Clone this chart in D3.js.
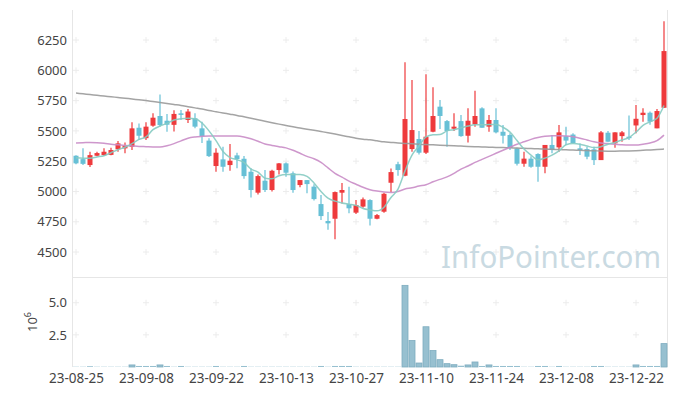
<!DOCTYPE html>
<html>
<head>
<meta charset="utf-8">
<script src="https://cdn.jsdelivr.net/npm/d3@7"></script>
<style>
  body { margin: 0; background: #fff; }
  svg text { font-family: "Noto Sans", "Open Sans", sans-serif; }
</style>
</head>
<body>
<div id="chart"></div>
<script>
// trading days, 23-08-25 .. 24-01-02
const dates = [
  "23-08-25","23-08-28","23-08-29","23-08-30","23-08-31","23-09-01","23-09-04","23-09-05","23-09-06","23-09-07",
  "23-09-08","23-09-11","23-09-12","23-09-13","23-09-14","23-09-15","23-09-18","23-09-19","23-09-20","23-09-21",
  "23-09-22","23-09-25","23-09-26","23-09-27","23-10-04","23-10-05","23-10-06","23-10-10","23-10-11","23-10-12",
  "23-10-13","23-10-16","23-10-17","23-10-18","23-10-19","23-10-20","23-10-23","23-10-24","23-10-25","23-10-26",
  "23-10-27","23-10-30","23-10-31","23-11-01","23-11-02","23-11-03","23-11-06","23-11-07","23-11-08","23-11-09",
  "23-11-10","23-11-13","23-11-14","23-11-15","23-11-16","23-11-17","23-11-20","23-11-21","23-11-22","23-11-23",
  "23-11-24","23-11-27","23-11-28","23-11-29","23-11-30","23-12-01","23-12-04","23-12-05","23-12-06","23-12-07",
  "23-12-08","23-12-11","23-12-12","23-12-13","23-12-14","23-12-15","23-12-18","23-12-19","23-12-20","23-12-21",
  "23-12-22","23-12-26","23-12-27","23-12-28","24-01-02"
]
const tickLabels = ["23-08-25","23-09-08","23-09-22","23-10-13","23-10-27","23-11-10","23-11-24","23-12-08","23-12-22"]

const open = [5295,5267,5218,5295,5300,5302,5348,5356,5369,5526, 5440,5543,5623,5584,5550,5645,5590,5604,5521,5420,
  5210,5265,5218,5298,5270,5163,4990,5089,5012,5177, 5232,5150,5053,5094,5040,4896,4756,4775,4990,4896,
  4825,4875,4929,4775,4833,5072,5225,5130,5350,5433, 5320,5493,5700,5581,5518,5581,5460,5554,5686,5535,
  5590,5493,5466,5356,5229,5271,5309,5204,5384,5364, 5457,5470,5356,5350,5348,5259,5485,5397,5457,5452,
  5545,5631,5650,5521,5691]
const high = [5300,5356,5328,5328,5356,5360,5416,5405,5571,5562, 5571,5645,5800,5639,5670,5672,5680,5645,5576,5440,
  5356,5369,5392,5320,5292,5191,5140,5177,5180,5235, 5240,5165,5094,5094,5060,4970,4830,5000,5070,5040,
  4930,4950,4935,4815,4990,5190,5245,6066,5920,5499, 5967,5860,5755,5590,5645,5631,5686,5832,5695,5631,
  5686,5548,5480,5361,5328,5290,5315,5384,5466,5548, 5535,5480,5397,5369,5369,5500,5500,5488,5499,5627,
  5713,5686,5660,5680,6405]
const low = [5225,5218,5202,5290,5295,5298,5328,5315,5342,5425, 5425,5535,5535,5493,5495,5590,5565,5521,5400,5285,
  5163,5163,5171,5191,5106,4951,4975,4995,5000,5140, 5122,4990,5034,4985,4925,4765,4685,4605,4900,4820,
  4815,4865,4720,4770,4825,4995,5130,5125,5328,5306, 5309,5488,5515,5370,5499,5452,5405,5535,5526,5493,
  5480,5397,5342,5215,5204,5195,5080,5150,5315,5328, 5384,5395,5301,5265,5218,5259,5411,5361,5411,5425,
  5480,5576,5550,5521,5691]
const close = [5232,5228,5300,5317,5328,5342,5397,5378,5521,5460, 5535,5609,5548,5551,5640,5632,5660,5535,5457,5292,
  5320,5204,5254,5268,5127,5012,5127,5012,5171,5232, 5155,5012,5094,5061,4937,4797,4737,4995,5012,4861,
  4888,4935,4775,4805,4981,5160,5177,5598,5507,5320, 5452,5623,5623,5499,5535,5457,5584,5623,5526,5590,
  5488,5460,5361,5229,5271,5204,5204,5384,5342,5488, 5420,5400,5342,5287,5259,5488,5411,5488,5488,5444,
  5600,5650,5576,5664,6159]

// moving averages
const ma5 = [5279,5275,5274,5285,5295,5320,5345,5365,5395,5430, 5450,5510,5540,5562,5590,5600,5605,5600,5565,5500,
  5420,5330,5280,5262,5240,5185,5160,5110,5105,5130, 5140,5140,5140,5125,5070,5000,4945,4920,4905,4895,
  4885,4860,4848,4840,4870,4950,5020,5170,5300,5375, 5450,5468,5470,5500,5510,5525,5540,5550,5550,5552,
  5552,5530,5490,5420,5350,5300,5262,5275,5300,5335, 5385,5395,5390,5375,5362,5370,5390,5405,5425,5445,
  5490,5545,5575,5605,5710]
const ma20 = [5400,5402,5405,5403,5398,5390,5385,5380,5376,5372, 5370,5368,5368,5378,5395,5418,5440,5450,5455,5458,
  5458,5458,5457,5457,5450,5435,5415,5392,5380,5370, 5360,5340,5315,5290,5270,5240,5195,5150,5118,5085,
  5060,5035,5015,5003,4995,4992,5000,5020,5030,5045, 5055,5080,5100,5120,5150,5185,5210,5240,5265,5290,
  5315,5340,5365,5390,5410,5430,5445,5455,5460,5460, 5458,5452,5440,5425,5410,5400,5395,5390,5385,5383,
  5383,5390,5400,5420,5465]
const ma60 = [5812,5806,5800,5794,5788,5782,5776,5770,5763,5757, 5750,5742,5734,5726,5718,5710,5700,5690,5680,5668,
  5658,5648,5638,5628,5616,5604,5592,5580,5568,5556, 5545,5534,5524,5514,5505,5495,5485,5474,5462,5451,
  5440,5432,5426,5418,5410,5405,5400,5397,5393,5390, 5387,5385,5382,5380,5378,5375,5372,5370,5368,5366,
  5364,5362,5360,5358,5356,5354,5352,5350,5348,5346, 5344,5342,5340,5338,5336,5334,5333,5333,5334,5335,
  5337,5340,5343,5346,5350]

// volume, millions of shares
const volume = [0.02,0.02,0.06,0.02,0.02,0.02,0.02,0.02,0.16,0.08, 0.08,0.08,0.16,0.08,0.02,0.08,0.02,0.02,0.02,0.02,
  0.08,0.02,0.02,0.02,0.08,0.02,0.02,0.02,0.02,0.02, 0.02,0.02,0.02,0.02,0.02,0.08,0.02,0.08,0.08,0.08,
  0.02,0.02,0.02,0.02,0.02,0.02,0.02,6.35,2.06,0.31, 3.13,1.28,0.57,0.26,0.18,0.10,0.16,0.39,0.08,0.16,
  0.08,0.08,0.08,0.08,0.02,0.02,0.08,0.08,0.02,0.08, 0.02,0.02,0.02,0.02,0.08,0.08,0.02,0.02,0.02,0.02,
  0.16,0.08,0.08,0.08,1.82]

const priceTicks = [4500, 4750, 5000, 5250, 5500, 5750, 6000, 6250]
const volTicks = [2.5, 5.0]

const W = 677, H = 396
const LEFT = 73, RIGHT = 667, TOP = 10, SPLIT = 277, BOTTOM = 367

const UP = "#ee3a3c", DOWN = "#67c0d6"

const svg = d3.select("#chart").append("svg")
  .attr("width", W)
  .attr("height", H)

const x = d3.scaleLinear()
  .domain([-3 / 7, dates.length - 1 + 3 / 7])
  .range([LEFT, RIGHT])

const y = d3.scaleLinear()
  .domain([4294, 6498])
  .range([SPLIT, TOP])

const yv = d3.scaleLinear()
  .domain([0, 7])
  .range([BOTTOM, SPLIT])

// frame
const frame = svg.append("g").attr("stroke", "#e6e6e6").attr("stroke-width", 1)
frame.append("line").attr("x1", LEFT - 0.5).attr("x2", LEFT - 0.5).attr("y1", TOP).attr("y2", BOTTOM)
frame.append("line").attr("x1", RIGHT + 0.5).attr("x2", RIGHT + 0.5).attr("y1", TOP).attr("y2", BOTTOM)
frame.append("line").attr("x1", LEFT).attr("x2", RIGHT).attr("y1", SPLIT + 0.5).attr("y2", SPLIT + 0.5)

// "+" grid marks
const tickIdx = tickLabels.map(t => dates.indexOf(t))
const crossPts = []
tickIdx.forEach(i => {
  priceTicks.forEach(p => crossPts.push([x(i), y(p)]))
  volTicks.forEach(v => crossPts.push([x(i), yv(v)]))
})
svg.append("g").selectAll("path").data(crossPts).join("path")
  .attr("d", d => `M${d[0] - 3},${d[1]}H${d[0] + 3}M${d[0]},${d[1] - 3}V${d[1] + 3}`)
  .attr("stroke", "#ececec")
  .attr("stroke-width", 1)

// watermark
svg.append("text")
  .attr("x", 661)
  .attr("y", 268)
  .attr("text-anchor", "end")
  .attr("font-size", 31)
  .attr("fill", "#c9dae2")
  .attr("textLength", 220)
  .attr("lengthAdjust", "spacingAndGlyphs")
  .text("InfoPointer.com")

// axes
const yAxis = svg.append("g")
  .attr("transform", `translate(${LEFT - 6},0)`)
  .call(d3.axisLeft(y).tickValues(priceTicks).tickSize(0).tickPadding(0).tickFormat(d3.format("d")))
const vAxis = svg.append("g")
  .attr("transform", `translate(${LEFT - 6},0)`)
  .call(d3.axisLeft(yv).tickValues(volTicks).tickSize(0).tickPadding(0).tickFormat(d3.format(".1f")))
const xAxis = svg.append("g")
  .attr("transform", `translate(0,${BOTTOM + 6})`)
  .call(d3.axisBottom(x).tickValues(tickIdx).tickFormat(i => dates[i]).tickSize(0).tickPadding(0))

;[yAxis, vAxis, xAxis].forEach(g => {
  g.select(".domain").remove()
  g.selectAll("text")
    .attr("fill", "#444")
    .attr("font-size", 13)
    .attr("font-family", "'Noto Sans', sans-serif")
})
xAxis.selectAll("text").attr("dy", "0.71em").attr("font-size", 13.5)

// 10^6 label
const unit = svg.append("text")
  .attr("transform", `translate(37,322) rotate(-90)`)
  .attr("text-anchor", "middle")
  .attr("font-size", 13)
  .attr("fill", "#444")
unit.append("tspan").text("10")
unit.append("tspan").attr("dy", -6).attr("font-size", 9).text("6")

// volume bars
const bw = 6
svg.append("g").selectAll("rect").data(volume).join("rect")
  .attr("x", (d, i) => x(i) - bw / 2)
  .attr("y", d => yv(d))
  .attr("width", bw)
  .attr("height", d => yv(0) - yv(d))
  .attr("fill", "#97c0d0")
  .attr("stroke", d => yv(0) - yv(d) > 1.5 ? "#7eacbf" : "none")
  .attr("stroke-width", 0.8)

// candles
const candles = svg.append("g").selectAll("g").data(dates).join("g")
candles.append("line")
  .attr("x1", (d, i) => x(i))
  .attr("x2", (d, i) => x(i))
  .attr("y1", (d, i) => y(high[i]))
  .attr("y2", (d, i) => y(low[i]))
  .attr("stroke", (d, i) => close[i] >= open[i] ? UP : DOWN)
  .attr("stroke-width", 1.2)
candles.append("rect")
  .attr("x", (d, i) => x(i) - 2.5)
  .attr("width", 5)
  .attr("y", (d, i) => y(Math.max(open[i], close[i])))
  .attr("height", (d, i) => Math.max(1.5, Math.abs(y(open[i]) - y(close[i]))))
  .attr("fill", (d, i) => close[i] >= open[i] ? UP : DOWN)

// moving averages
const line = d3.line().x((d, i) => x(i)).y(d => y(d)).curve(d3.curveMonotoneX)
svg.append("path").datum(ma60).attr("d", line)
  .attr("fill", "none").attr("stroke", "#9a9a9a").attr("stroke-width", 1.5).attr("opacity", 0.9)
svg.append("path").datum(ma20).attr("d", line)
  .attr("fill", "none").attr("stroke", "#c98cc6").attr("stroke-width", 1.5).attr("opacity", 0.9)
svg.append("path").datum(ma5).attr("d", line)
  .attr("fill", "none").attr("stroke", "#86cbc2").attr("stroke-width", 1.5).attr("opacity", 0.9)
</script>
</body>
</html>
